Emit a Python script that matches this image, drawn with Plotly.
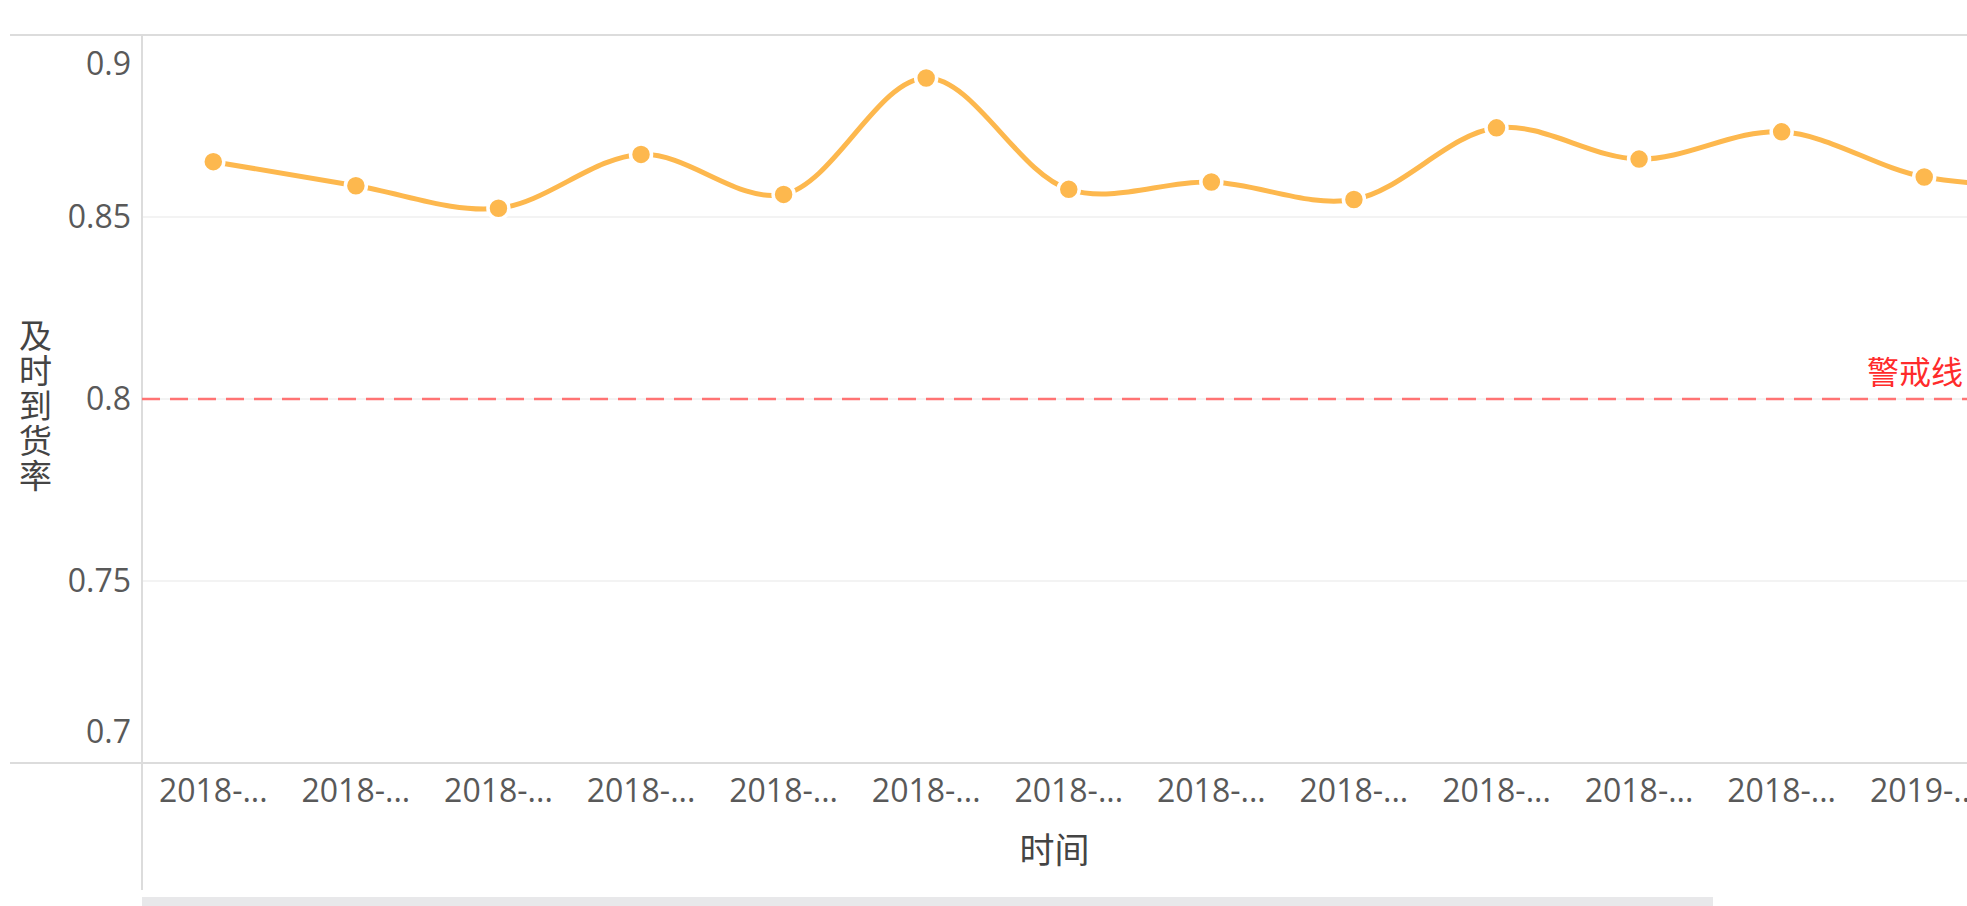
import plotly.graph_objects as go

# ---------------- data ----------------
categories = ["2018-01", "2018-02", "2018-03", "2018-04", "2018-05", "2018-06",
              "2018-07", "2018-08", "2018-09", "2018-10", "2018-11", "2018-12",
              "2019-01", "2019-02"]
values = [0.8652, 0.8586, 0.8524, 0.8672, 0.8562, 0.8882, 0.8576,
          0.8596, 0.8548, 0.8745, 0.8659, 0.8734, 0.8610, 0.8585]
tick_labels = [c[:5] + "..." for c in categories]
y_ticks_mid = [0.75, 0.8, 0.85]
y_tick_top = [0.9]
y_tick_bottom = [0.7]
y_range = [0.7, 0.9]
warning_value = 0.8
warning_label = "警戒线"
x_title = "时间"
y_title = "及时到货率"

# ---------------- style ----------------
W, H = 1967, 906
PLOT_LEFT, PLOT_TOP, PLOT_BOTTOM = 142, 35, 763
L, T, B, R = PLOT_LEFT, PLOT_TOP, H - PLOT_BOTTOM, 0
PW, PH = W - L - R, H - T - B
ORANGE = "#FDB84E"
TICK_COLOR = "#595959"
BORDER = "#dcdcdc"
FONT = "Open Sans, Noto Sans CJK SC, sans-serif"
CJK = "Noto Sans CJK SC"
TICK_SIZE = 32


def px_x(px):   # page x pixel -> paper
    return (px - PLOT_LEFT) / PW


def px_y(py):   # page y pixel -> paper
    return (PLOT_BOTTOM - py) / PH


fig = go.Figure()
fig.add_trace(go.Scatter(
    x=categories, y=values, mode="lines+markers",
    line=dict(color=ORANGE, width=5, shape="spline", smoothing=1.0),
    marker=dict(size=21, color=ORANGE, line=dict(color="white", width=3.5)),
    showlegend=False, hoverinfo="x+y"))
# empty traces so that the extra tick axes are created
fig.add_trace(go.Scatter(x=[], y=[], yaxis="y2", showlegend=False))
fig.add_trace(go.Scatter(x=[], y=[], yaxis="y3", showlegend=False))

common_y = dict(range=y_range, showline=False, zeroline=False, ticks="",
                tickfont=dict(size=TICK_SIZE, color=TICK_COLOR, family=FONT),
                ticklabelstandoff=10, fixedrange=True, automargin=False)

fig.update_layout(
    width=W, height=H, autosize=False,
    margin=dict(l=L, r=R, t=T, b=B, pad=0, autoexpand=False),
    paper_bgcolor="white", plot_bgcolor="white",
    font=dict(family=FONT, color=TICK_COLOR),
    xaxis=dict(type="category", range=[-0.5, 12.3], automargin=False,
               tickmode="array", tickvals=categories, ticktext=tick_labels,
               showgrid=False, showline=False, zeroline=False, ticks="",
               tickfont=dict(size=TICK_SIZE, color=TICK_COLOR, family=FONT),
               ticklabelstandoff=6,
               title=dict(text=x_title, font=dict(size=35, color="#444444", family=CJK),
                          standoff=28)),
    yaxis=dict(tickmode="array", tickvals=y_ticks_mid, ticktext=[f"{v:g}" for v in y_ticks_mid],
               showgrid=True, gridcolor="#f3f3f3", gridwidth=1.5, **common_y),
    yaxis2=dict(overlaying="y", side="left", tickmode="array", tickvals=y_tick_top,
                ticktext=[f"{v:g}" for v in y_tick_top], showgrid=False,
                ticklabelshift=29, **common_y),
    yaxis3=dict(overlaying="y", side="left", tickmode="array", tickvals=y_tick_bottom,
                ticktext=[f"{v:g}" for v in y_tick_bottom], showgrid=False,
                ticklabelshift=-31, **common_y),
)

# frame lines (table-like borders)
fig.add_shape(type="line", xref="paper", yref="paper", x0=px_x(10), x1=1, y0=1, y1=1,
              line=dict(color=BORDER, width=2))
fig.add_shape(type="line", xref="paper", yref="paper", x0=px_x(10), x1=1, y0=0, y1=0,
              line=dict(color=BORDER, width=2))
fig.add_shape(type="line", xref="paper", yref="paper", x0=0, x1=0, y0=1, y1=px_y(890),
              line=dict(color=BORDER, width=2))
# scrollbar thumb
fig.add_shape(type="rect", xref="paper", yref="paper", x0=px_x(142), x1=px_x(1713),
              y0=px_y(897), y1=px_y(906),
              fillcolor="#e8e8ea", line=dict(width=0))

# warning line
fig.add_shape(type="line", xref="paper", yref="y", x0=0, x1=1, y0=warning_value, y1=warning_value,
              line=dict(color="#FF7373", width=2.5, dash="18px,10px"), layer="above")
fig.add_annotation(x=1, xref="paper", y=warning_value, yref="y", text=warning_label,
                   showarrow=False, xanchor="right", yanchor="bottom", xshift=-2, yshift=4,
                   font=dict(size=32, color="#FF2B2B", family=CJK))

# vertical, upright y-axis title
y_title_text = "<br>".join(f'<span style="font-size:33px">{ch}</span>' for ch in y_title)
fig.add_annotation(x=px_x(35), xref="paper", y=px_y(404), yref="paper",
                   text=y_title_text, showarrow=False, xanchor="center", yanchor="middle",
                   font=dict(size=27, color="#444444", family=CJK))

fig.write_html("out.html", config={"displayModeBar": False},
               post_script="document.body.style.margin='0';"
                           "document.body.style.overflow='hidden';")
